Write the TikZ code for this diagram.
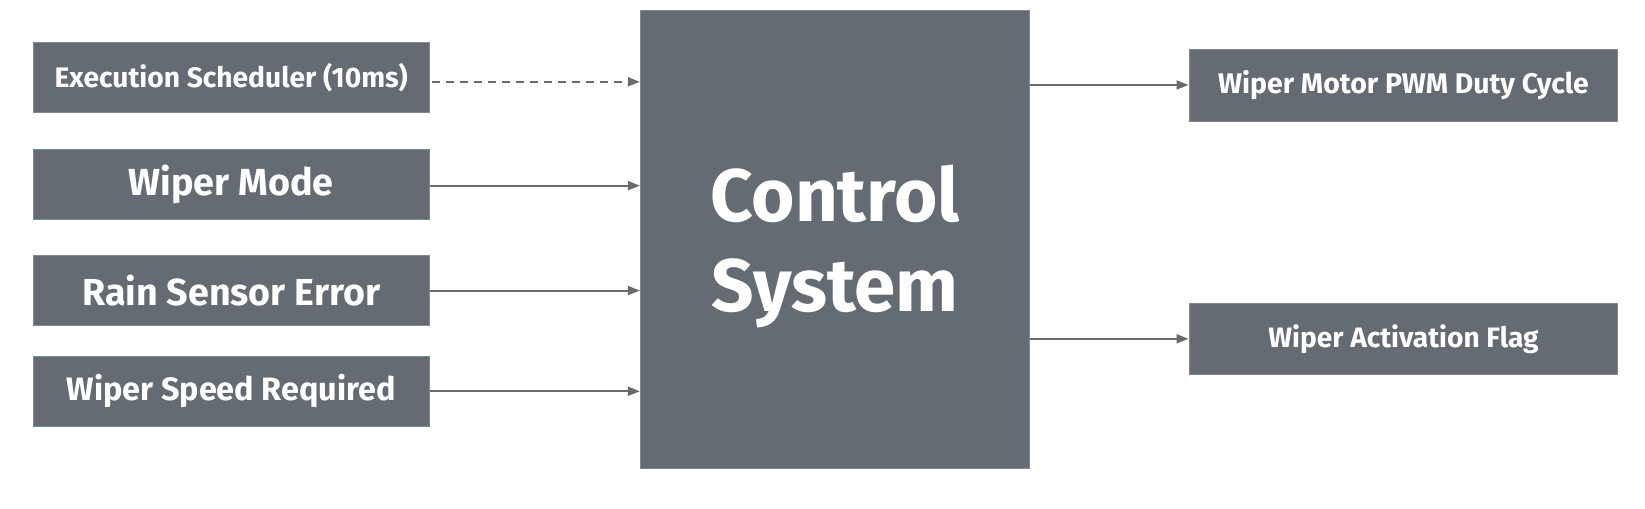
\documentclass[tikz,border=0pt]{standalone}
\usepackage{fontspec}
\setmainfont{Fira Sans}
\usetikzlibrary{arrows.meta}
\definecolor{boxgray}{HTML}{646B72}
\definecolor{linegray}{HTML}{6A6A6A}
\begin{document}
\begin{tikzpicture}[x=1.049pt,y=-1.049pt,
  blk/.style={draw=boxgray!80!white,line width=1pt,fill=boxgray,text=white,font=\bfseries,inner sep=0pt,anchor=north west},
  conn/.style={draw=linegray,line width=1.9pt,-{Triangle[length=12pt,width=9pt]}}]
\useasboundingbox (0,0) rectangle (1568.2,484.3);
\node[blk,minimum width=396.5pt,minimum height=70.3pt,font=\bfseries\fontsize{28.2}{33}\selectfont] (sched) at (31,40) {Execution Scheduler (10ms)};
\node[blk,minimum width=396.5pt,minimum height=70.3pt,font=\bfseries\fontsize{37.7}{44}\selectfont] (mode) at (31,142) {Wiper Mode};
\node[blk,minimum width=396.5pt,minimum height=70.3pt,font=\bfseries\fontsize{37.6}{44}\selectfont] (rain) at (31,243) {Rain Sensor Error};
\node[blk,minimum width=396.5pt,minimum height=70.3pt,font=\bfseries\fontsize{32.4}{38}\selectfont] (speed) at (31,339) {Wiper Speed Required};
\node[blk,minimum width=389.2pt,minimum height=457.4pt] (ctrl) at (610,10) {};
\node[text=white,align=center,inner sep=0pt,font=\bfseries\fontsize{74.4}{90}\selectfont] (ctrltxt) at ([yshift=-7pt]ctrl.center) {Control\\System};
\node[blk,minimum width=429pt,minimum height=71.3pt,font=\bfseries\fontsize{28.4}{33}\selectfont] (pwm) at (1133,47) {Wiper Motor PWM Duty Cycle};
\node[blk,minimum width=429pt,minimum height=71.3pt,font=\bfseries\fontsize{28.1}{33}\selectfont] (flag) at (1133,289) {Wiper Activation Flag};
\coordinate (s1) at (412,78);
\draw[conn,dashed,dash pattern=on 8pt off 6pt] (s1) -- (ctrl.west |- s1);
\draw[conn] (mode.east |- 0,177) -- (ctrl.west |- 0,177);
\draw[conn] (rain.east |- 0,277) -- (ctrl.west |- 0,277);
\draw[conn] (speed.east |- 0,373) -- (ctrl.west |- 0,373);
\draw[conn] (ctrl.east |- 0,81) -- (pwm.west |- 0,81);
\draw[conn] (ctrl.east |- 0,323) -- (flag.west |- 0,323);
\end{tikzpicture}
\end{document}
